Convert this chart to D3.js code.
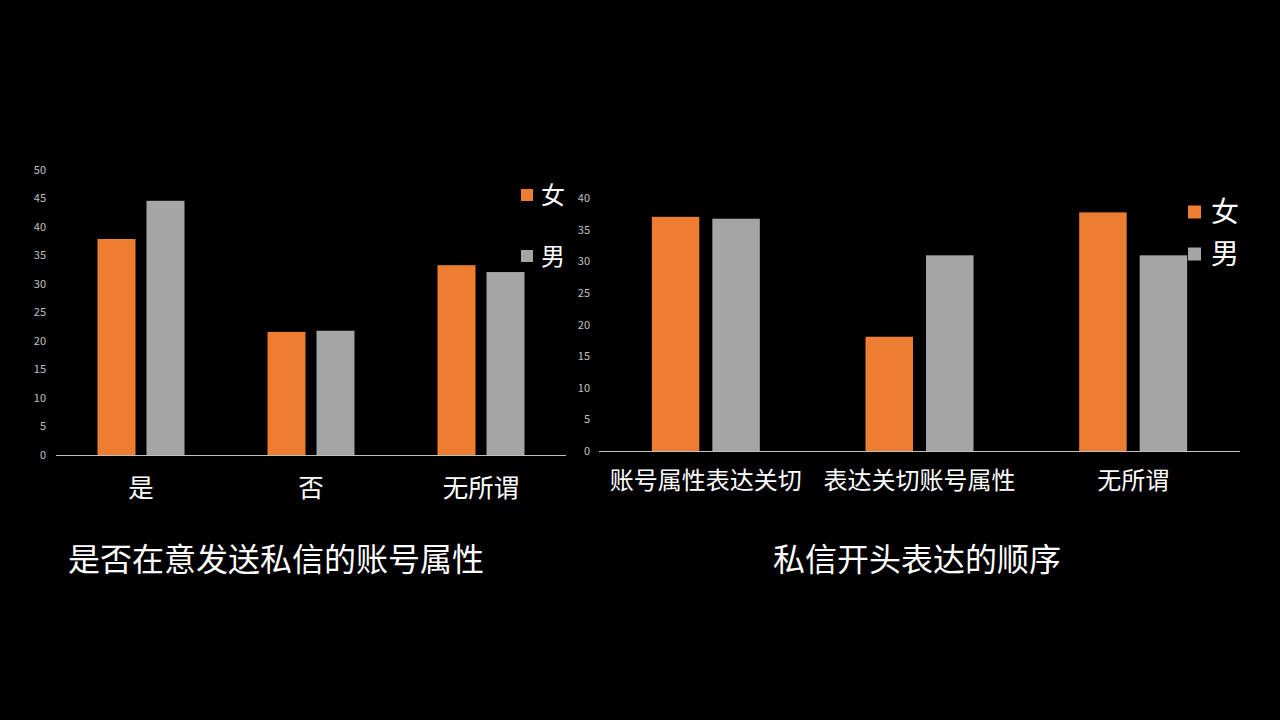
<!DOCTYPE html>
<html>
<head>
<meta charset="utf-8">
<script src="https://cdn.jsdelivr.net/npm/d3@7"></script>
<style>
  html, body { margin: 0; padding: 0; background: #000; }
  svg { display: block; }
  text { font-family: "Noto Sans CJK SC", "Noto Sans", sans-serif; }
</style>
</head>
<body>
<svg id="chart" width="1280" height="720"></svg>
<script>
// ----- data -----
const series = ["女", "男"];
const colors = ["#ED7D31", "#A5A5A5"];

const leftCats = ["是", "否", "无所谓"];
const leftFemale = [37.9, 21.6, 33.3];
const leftMale = [44.6, 21.8, 32.1];
const leftTicks = [0, 5, 10, 15, 20, 25, 30, 35, 40, 45, 50];
const leftTitle = "是否在意发送私信的账号属性";

const rightCats = ["账号属性表达关切", "表达关切账号属性", "无所谓"];
const rightFemale = [37.1, 18.1, 37.8];
const rightMale = [36.8, 31.0, 31.0];
const rightTicks = [0, 5, 10, 15, 20, 25, 30, 35, 40];
const rightTitle = "私信开头表达的顺序";

const svg = d3.select("#chart");
svg.append("rect").attr("width", 1280).attr("height", 720).attr("fill", "#000");

// layout for each panel
function drawPanel(opt) {
  const g = svg.append("g");
  const y = d3.scaleLinear().domain([0, opt.ymax]).range([opt.y0, opt.ytop]);
  const x0 = d3.scaleBand().domain(opt.cats).range([opt.xl, opt.xr]).padding(0);
  const x1 = d3.scaleBand().domain(series).range([0, opt.pairW]).paddingInner(opt.gap / ((opt.pairW + opt.gap) / 2));
  const off = (x0.bandwidth() - opt.pairW) / 2;

  // y tick labels
  g.selectAll("text.tick").data(opt.ticks).join("text")
    .attr("class", "tick")
    .attr("x", opt.tickX)
    .attr("y", d => y(d))
    .attr("dy", "0.35em")
    .attr("text-anchor", "end")
    .attr("fill", "#c0c0c0")
    .attr("font-size", 11)
    .text(d => d);

  // bars
  const rows = opt.cats.map((c, i) => ({ cat: c, vals: [opt.female[i], opt.male[i]] }));
  const grp = g.selectAll("g.cat").data(rows).join("g")
    .attr("class", "cat")
    .attr("transform", d => `translate(${x0(d.cat) + off},0)`);
  grp.selectAll("rect").data(d => d.vals.map((v, k) => ({ s: series[k], v, k }))).join("rect")
    .attr("x", d => x1(d.s))
    .attr("width", x1.bandwidth())
    .attr("y", d => y(d.v))
    .attr("height", d => y(0) - y(d.v))
    .attr("fill", d => colors[d.k]);

  // x axis line
  g.append("line")
    .attr("x1", opt.xl).attr("x2", opt.xr)
    .attr("y1", y(0) + 0.5).attr("y2", y(0) + 0.5)
    .attr("stroke", "#bfbfbf").attr("stroke-width", 1);

  // category labels
  g.selectAll("text.cat").data(opt.cats).join("text")
    .attr("class", "cat")
    .attr("x", d => x0(d) + x0.bandwidth() / 2)
    .attr("y", opt.catY)
    .attr("text-anchor", "middle")
    .attr("fill", "#fff")
    .attr("font-size", opt.catSize)
    .text(d => d);

  // legend
  const lg = g.selectAll("g.leg").data(series).join("g")
    .attr("class", "leg")
    .attr("transform", (d, i) => `translate(${opt.legX},${opt.legY[i]})`);
  lg.append("rect")
    .attr("x", 0).attr("y", -opt.legSq / 2)
    .attr("width", opt.legSq).attr("height", opt.legSq)
    .attr("fill", (d, i) => colors[i]);
  lg.append("text")
    .attr("x", opt.legSq + opt.legPad)
    .attr("y", 0)
    .attr("dy", "0.36em")
    .attr("fill", "#fff")
    .attr("font-size", opt.legSize)
    .text(d => d);

  // title
  g.append("text")
    .attr("x", opt.titleX)
    .attr("y", opt.titleY)
    .attr("text-anchor", "middle")
    .attr("fill", "#fff")
    .attr("font-size", opt.titleSize)
    .text(opt.title);
}

drawPanel({
  cats: leftCats, female: leftFemale, male: leftMale, ticks: leftTicks, ymax: 50,
  y0: 455, ytop: 170, xl: 56, xr: 566, pairW: 87, gap: 11, tickX: 46,
  catY: 497, catSize: 25.5,
  legX: 521, legY: [195, 256], legSq: 12, legPad: 8, legSize: 24,
  title: leftTitle, titleX: 276, titleY: 571, titleSize: 32
});

drawPanel({
  cats: rightCats, female: rightFemale, male: rightMale, ticks: rightTicks, ymax: 40,
  y0: 451, ytop: 198.5, xl: 599, xr: 1240, pairW: 108, gap: 13, tickX: 590,
  catY: 489, catSize: 24,
  legX: 1188, legY: [212, 254], legSq: 13, legPad: 10, legSize: 28,
  title: rightTitle, titleX: 917, titleY: 571, titleSize: 32
});
</script>
</body>
</html>
